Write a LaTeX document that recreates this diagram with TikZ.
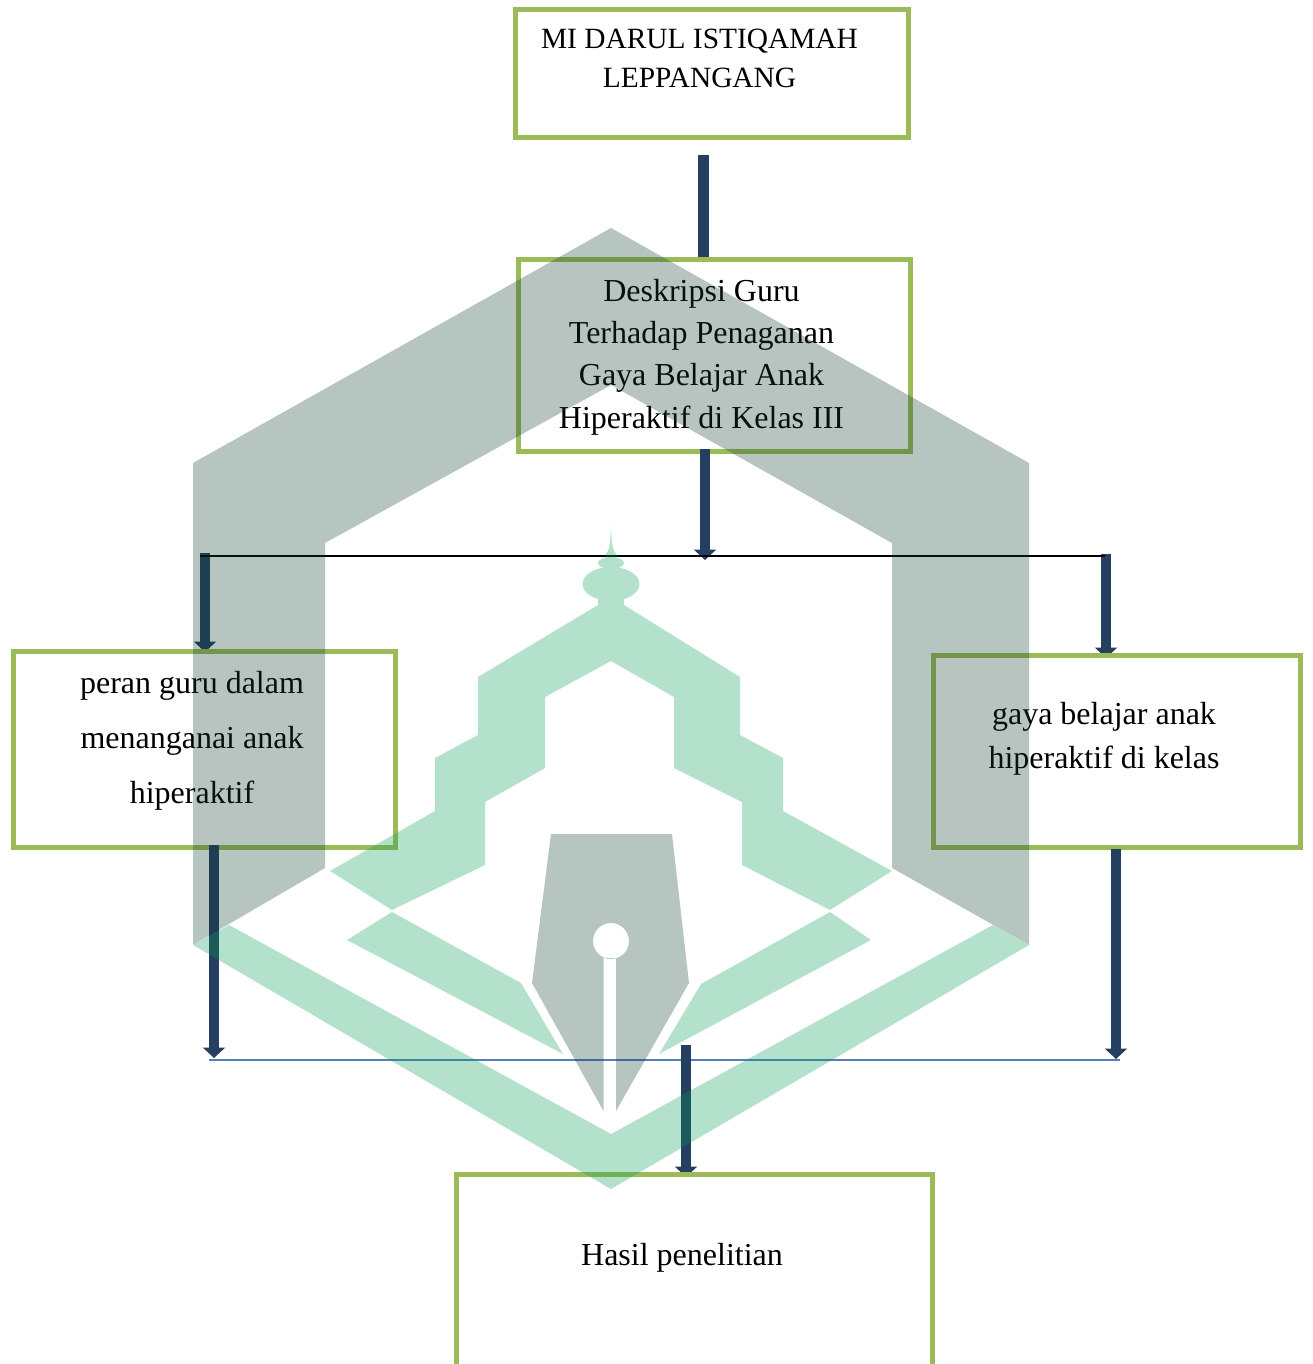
\documentclass[tikz,border=0pt]{standalone}
\usepackage{fontspec}
\setmainfont{Liberation Serif}
\usetikzlibrary{arrows.meta}
\pgfdeclarelayer{back}
\pgfdeclarelayer{front}
\pgfsetlayers{back,main,front}
\definecolor{boxgreen}{HTML}{9BBB59}
\definecolor{navy}{HTML}{243F60}
\definecolor{bluebar}{HTML}{4F81BD}
\definecolor{markgrey}{HTML}{123E31}
\definecolor{markgreen}{HTML}{089B52}
\tikzset{
  x=1pt,y=-1pt,
  box/.style={draw=boxgreen,line width=5pt,fill=white,inner sep=0pt},
  lbl/.style={align=center,inner sep=0pt,text=black},
  shaft/.style={draw=navy,line width=10pt},
  flow/.style={shaft,-{Triangle[length=10.5pt,width=22pt,fill=navy]}},
  bar/.style={line width=2pt}
}
\newcommand{\lblfont}[2]{\fontsize{#1}{#2}\selectfont}
\begin{document}
\begin{tikzpicture}
\useasboundingbox (0,0) rectangle (1312,1364);
\clip (0,0) rectangle (1312,1364);
% boxes
\node[box,minimum width=393pt,minimum height=128pt] (top) at (712,74) {};
\node[box,minimum width=392pt,minimum height=192pt] (desc) at (714,355.5) {};
\node[box,minimum width=382pt,minimum height=196pt] (peran) at (204.5,749) {};
\node[box,minimum width=367pt,minimum height=192pt] (gaya) at (1116.5,751) {};
\node[box,minimum width=476pt,minimum height=246pt] (hasil) at (694.5,1297.5) {};
% labels
\node[lbl,font=\lblfont{29.4}{39pt}] (ttop) at (699.5,58) {MI DARUL ISTIQAMAH\\LEPPANGANG};
\node[lbl,font=\lblfont{32}{42.4pt}] (tdesc) at (701.5,357) {Deskripsi Guru\\Terhadap Penaganan\\Gaya Belajar Anak\\Hiperaktif di Kelas III};
\node[lbl,font=\lblfont{32}{55pt}] (tperan) at (192,741) {peran guru dalam\\menanganai anak\\hiperaktif};
\node[lbl,font=\lblfont{32}{44pt}] (tgaya) at (1104,739) {gaya belajar anak\\hiperaktif di kelas};
\node[lbl,font=\lblfont{32}{42pt}] (thasil) at (682,1258) {Hasil penelitian};
% junction coordinates
\coordinate (a1) at (703.5,155);
\coordinate (busL) at (200,556);
\coordinate (busR) at (1105,556);
\coordinate (a2end) at (705,560);
\coordinate (a3start) at (205,553);
\coordinate (a4start) at (1106,554);
\coordinate (a5end) at (214,1058);
\coordinate (a6end) at (1116,1059);
\coordinate (mergeL) at (209,1060);
\coordinate (mergeR) at (1120,1060);
\coordinate (a7start) at (686,1045);
% incoming arrows run behind the boxes
\begin{pgfonlayer}{back}
  \draw[flow,line width=11pt] (a1) -- (703.5,272);
  \draw[flow] (a3start) -- (205,652);
  \draw[flow] (a4start) -- (1106,658);
\end{pgfonlayer}
% outgoing arrows and bars
\draw[flow] (705,449) -- (a2end);
\draw[flow] (214,845) -- (a5end);
\draw[flow] (1116,849) -- (a6end);
\draw[bar,black] (busL) -- (busR);
\draw[bar,bluebar] (mergeL) -- (mergeR);
\begin{pgfonlayer}{back}
  \draw[flow] (a7start) -- (686,1177);
\end{pgfonlayer}
\draw[shaft] (a7start) -- (686,1070);
% watermark on top
\begin{pgfonlayer}{front}
\begin{scope}[transparency group,opacity=.3]
  % hexagon frame
  \fill[markgrey] (193,463) -- (611,228) -- (1029,463) -- (1029,945) -- (892,868) -- (892,543)
     -- (611,385) -- (325,543) -- (325,868) -- (193,945) -- cycle;
  % green chevron
  \fill[markgreen] (193,945) -- (229,925) -- (611,1134) -- (993,925) -- (1029,945) -- (611,1189) -- cycle;
  % roof with steps
  \fill[markgreen] (598,605) -- (478,677) -- (478,735) -- (435,758) -- (435,811) -- (330,871)
     -- (392,910) -- (485,865) -- (485,802) -- (545,768) -- (545,697) -- (611,661)
     -- (674,697) -- (674,768) -- (742,802) -- (742,865) -- (830,910) -- (892,871)
     -- (783,811) -- (783,758) -- (740,735) -- (740,677) -- (624,605) -- (624,595) -- (598,595) -- cycle;
  % finial
  \fill[markgreen] (611,584) ellipse [x radius=28.5,y radius=17];
  \fill[markgreen] (611,563) ellipse [x radius=13,y radius=6];
  \fill[markgreen] (611,556) ellipse [x radius=6,y radius=5];
  \fill[markgreen] (611,525) .. controls (611.5,540) and (612,548) .. (615,553) -- (607,553) .. controls (610,548) and (610.5,540) .. (611,525) -- cycle;
  % lower wings
  \fill[markgreen] (347,940) -- (392,912) -- (521,983) -- (563,1054) -- cycle;
  \fill[markgreen] (871,940) -- (830,912) -- (701,984) -- (659,1054) -- cycle;
  % pen nib
  \fill[markgrey,even odd rule] (551,834) -- (672,834) -- (689,983) -- (616,1111) -- (616,958.3)
     -- (603.5,957.4) -- (603.5,1111) -- (532,983) -- cycle
     (611,941) circle [radius=18];
\end{scope}
\end{pgfonlayer}
\end{tikzpicture}
\end{document}
